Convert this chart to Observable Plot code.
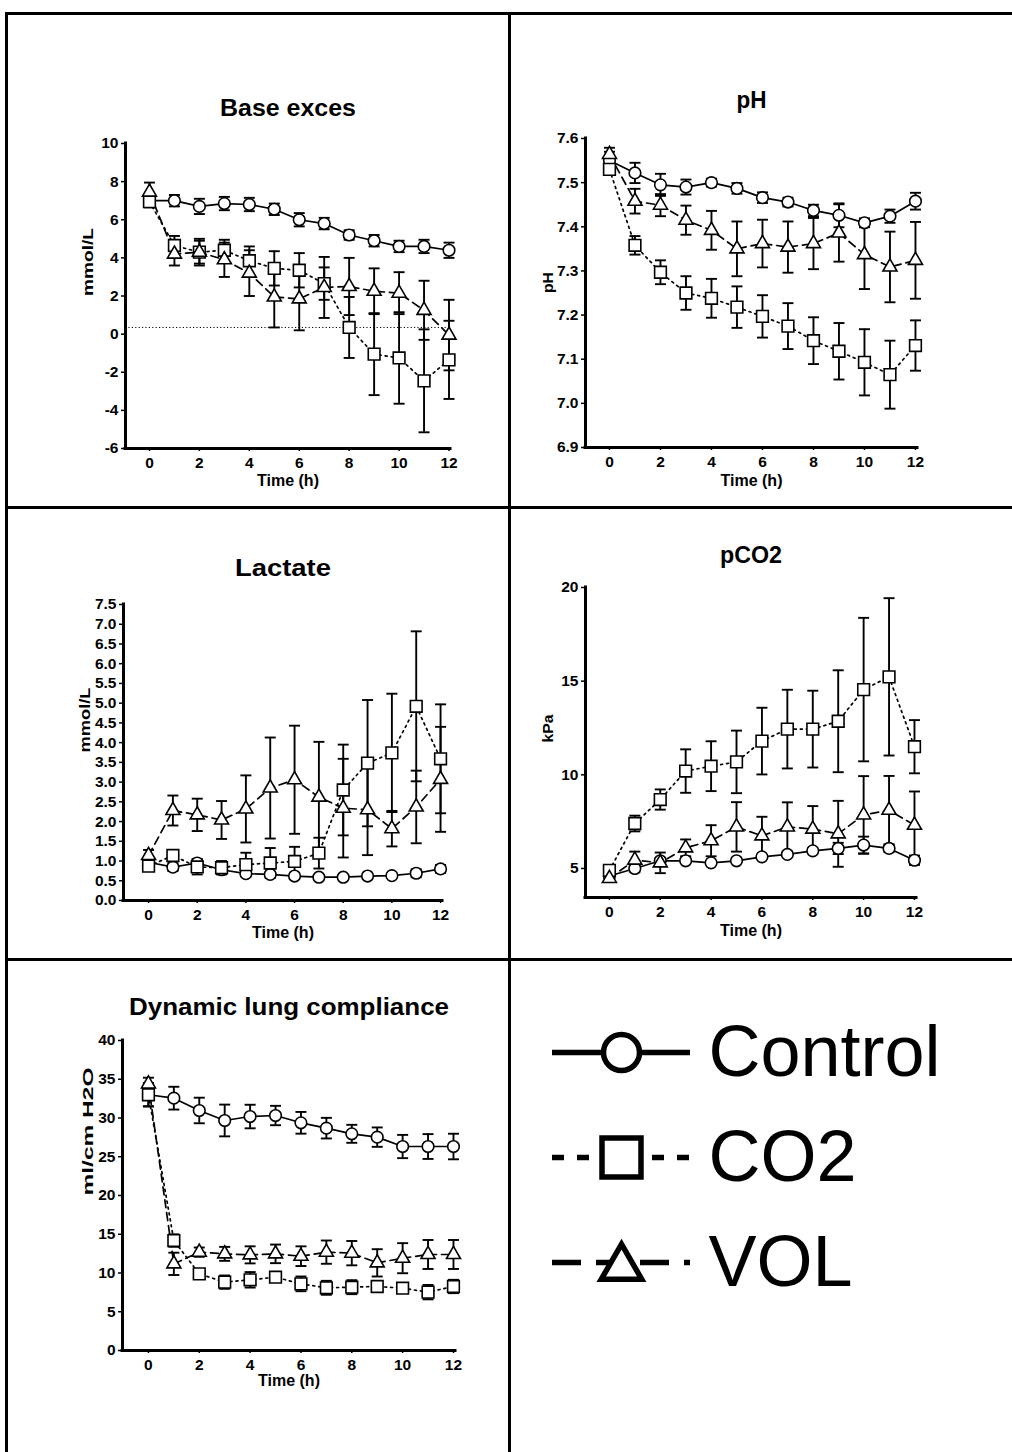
<!DOCTYPE html>
<html>
<head>
<meta charset="utf-8">
<script src="https://cdn.jsdelivr.net/npm/d3@7"></script>
<script src="https://cdn.jsdelivr.net/npm/@observablehq/plot@0.6"></script>
<style>
  html, body { margin: 0; padding: 0; background: white; }
  body { width: 1012px; height: 1452px; position: relative; overflow: hidden; font-family: "Liberation Sans", Arial, sans-serif; }
  .cell { position: absolute; }
  .bord { position: absolute; background: black; z-index: 5; }
</style>
</head>
<body>
<script>
// ---------- DATA ----------
const time = [0, 1, 2, 3, 4, 5, 6, 7, 8, 9, 10, 11, 12];
const groups = ["Control", "CO2", "VOL"];
const xTicks = [0, 2, 4, 6, 8, 10, 12];

// Base excess (mmol/L)
const beControl    = [7.0, 7.0, 6.7, 6.85, 6.8, 6.55, 6.0, 5.8, 5.2, 4.9, 4.6, 4.6, 4.4];
const beControlErr = [0.3, 0.3, 0.4, 0.35, 0.35, 0.3, 0.35, 0.3, 0.25, 0.3, 0.3, 0.35, 0.4];
const beCO2        = [6.95, 4.65, 4.3, 4.4, 3.85, 3.45, 3.35, 2.65, 0.35, -1.05, -1.25, -2.45, -1.35];
const beCO2Err     = [0.3, 0.5, 0.6, 0.55, 0.75, 0.9, 0.9, 0.85, 1.6, 2.15, 2.4, 2.7, 2.05];
const beVOL        = [7.45, 4.2, 4.3, 3.9, 3.2, 1.95, 1.85, 2.45, 2.5, 2.25, 2.15, 1.25, -0.05];
const beVOLErr     = [0.5, 0.6, 0.7, 0.9, 1.2, 1.6, 1.65, 1.6, 1.5, 1.2, 1.1, 1.55, 1.85];
const beRefLine    = 0.35;
const beTicks      = [-6, -4, -2, 0, 2, 4, 6, 8, 10];

// pH
const phControl    = [7.55, 7.522, 7.495, 7.49, 7.5, 7.487, 7.466, 7.456, 7.437, 7.426, 7.409, 7.424, 7.458];
const phControlErr = [0.02, 0.023, 0.025, 0.017, 0.009, 0.012, 0.012, 0.01, 0.013, 0.027, 0.01, 0.015, 0.019];
const phCO2        = [7.53, 7.358, 7.297, 7.25, 7.238, 7.218, 7.197, 7.175, 7.142, 7.118, 7.093, 7.065, 7.131];
const phCO2Err     = [0.01, 0.021, 0.027, 0.038, 0.044, 0.047, 0.048, 0.052, 0.053, 0.064, 0.075, 0.077, 0.057];
const phVOL        = [7.564, 7.458, 7.449, 7.415, 7.392, 7.35, 7.362, 7.354, 7.362, 7.386, 7.337, 7.309, 7.324];
const phVOLErr     = [0.015, 0.028, 0.025, 0.033, 0.044, 0.062, 0.054, 0.058, 0.058, 0.065, 0.078, 0.08, 0.087];
const phTicks      = [6.9, 7.0, 7.1, 7.2, 7.3, 7.4, 7.5, 7.6];

// Lactate (mmol/L)
const laControl    = [0.97, 0.845, 0.95, 0.78, 0.68, 0.66, 0.62, 0.59, 0.59, 0.62, 0.63, 0.69, 0.8];
const laControlErr = [0.1, 0.1, 0.1, 0.1, 0.05, 0.05, 0.04, 0.03, 0.03, 0.03, 0.03, 0.1, 0.1];
const laCO2        = [0.87, 1.14, 0.85, 0.83, 0.91, 0.95, 0.99, 1.2, 2.8, 3.48, 3.74, 4.92, 3.59];
const laCO2Err     = [0.05, 0.11, 0.19, 0.17, 0.3, 0.38, 0.37, 0.39, 1.15, 1.6, 1.5, 1.9, 1.38];
const laVOL        = [1.14, 2.28, 2.17, 2.04, 2.32, 2.85, 3.06, 2.62, 2.34, 2.3, 1.82, 2.37, 3.07];
const laVOLErr     = [0.14, 0.38, 0.41, 0.48, 0.85, 1.28, 1.37, 1.4, 1.25, 1.15, 0.45, 0.92, 1.33];
const laTicks      = [0, 0.5, 1, 1.5, 2, 2.5, 3, 3.5, 4, 4.5, 5, 5.5, 6, 6.5, 7, 7.5];

// pCO2 (kPa)
const pcControl    = [4.6, 5.0, 5.41, 5.41, 5.3, 5.41, 5.62, 5.75, 5.94, 6.07, 6.25, 6.07, 5.44];
const pcControlErr = [0.1, 0.2, 0.15, 0.1, 0.1, 0.1, 0.1, 0.1, 0.15, 0.3, 0.45, 0.2, 0.25];
const pcCO2        = [4.9, 7.4, 8.68, 10.2, 10.46, 10.69, 11.8, 12.44, 12.44, 12.86, 14.55, 15.23, 11.5];
const pcCO2Err     = [0.15, 0.42, 0.54, 1.16, 1.33, 1.67, 1.78, 2.1, 2.05, 2.72, 3.83, 4.2, 1.42];
const pcVOL        = [4.47, 5.45, 5.3, 6.1, 6.48, 7.22, 6.74, 7.22, 7.1, 6.85, 7.86, 8.11, 7.31];
const pcVOLErr     = [0.1, 0.45, 0.55, 0.45, 0.83, 1.32, 1.02, 1.31, 1.23, 1.76, 2.07, 1.83, 1.8];
const pcTicks      = [5, 10, 15, 20];

// Dynamic lung compliance (ml/cm H2O)
const dcControl    = [33.0, 32.56, 30.97, 29.68, 30.19, 30.32, 29.38, 28.69, 27.96, 27.53, 26.32, 26.32, 26.32];
const dcControlErr = [1.5, 1.47, 1.65, 2.05, 1.52, 1.25, 1.4, 1.33, 1.16, 1.25, 1.5, 1.6, 1.65];
const dcCO2        = [33.0, 14.19, 9.89, 8.82, 9.12, 9.46, 8.6, 8.09, 8.17, 8.26, 8.04, 7.53, 8.26];
const dcCO2Err     = [1.5, 0.8, 0.45, 0.86, 1.0, 0.4, 0.95, 0.9, 0.9, 0.58, 0.5, 0.93, 0.86];
const dcVOL        = [34.4, 11.18, 12.69, 12.47, 12.34, 12.47, 12.17, 12.69, 12.56, 11.31, 11.91, 12.39, 12.39];
const dcVOLErr     = [0.8, 1.44, 0.6, 0.9, 1.1, 1.2, 1.27, 1.5, 1.57, 1.76, 1.94, 1.87, 1.87];
const dcTicks      = [0, 5, 10, 15, 20, 25, 30, 35, 40];

// ---------- STYLE ----------
const FONT = "'Liberation Sans', Arial, Helvetica, sans-serif";
const groupStyle = {
  Control: {symbol: "circle", r: 5.8, dash: null},
  CO2:     {symbol: "square", r: 6.6, dash: "2,4"},
  VOL:     {symbol: "triangle", r: 5.2, dash: "8,5"}
};
const capSymbol = {
  draw(ctx, size) {
    const w = Math.sqrt(size / Math.PI);
    ctx.moveTo(-w, 0);
    ctx.lineTo(w, 0);
  }
};

function rows(mean, err) {
  return time.map((t, i) => ({t, m: mean[i], e: err[i]}));
}

function fitText(svg, label, len) {
  if (!len) return;
  const t = svg.querySelector(`g[aria-description="${label}"] text`);
  if (t) { t.setAttribute("textLength", len); t.setAttribute("lengthAdjust", "spacingAndGlyphs"); }
}

function panel(cfg) {
  const series = groups.map((g, k) => ({name: g, data: rows(cfg.means[k], cfg.errs[k])}));
  const marks = [];
  if (cfg.refLine != null) {
    marks.push(Plot.ruleY([cfg.refLine], {x1: cfg.xDomain[0], x2: 12, stroke: "black", strokeWidth: 1, strokeDasharray: "1.2,2.2"}));
  }
  for (const s of series) {
    const st = groupStyle[s.name];
    marks.push(Plot.line(s.data, {x: "t", y: "m", stroke: "black", strokeWidth: 1.7, strokeDasharray: st.dash ?? undefined}));
  }
  for (const s of series) {
    marks.push(Plot.ruleX(s.data, {x: "t", y1: d => d.m - d.e, y2: d => d.m + d.e, stroke: "black", strokeWidth: 1.9}));
    marks.push(Plot.dot(s.data, {x: "t", y: d => d.m + d.e, symbol: capSymbol, r: 5.5, fill: "none", stroke: "black", strokeWidth: 1.9}));
    marks.push(Plot.dot(s.data, {x: "t", y: d => d.m - d.e, symbol: capSymbol, r: 5.5, fill: "none", stroke: "black", strokeWidth: 1.9}));
  }
  for (const s of series) {
    const st = groupStyle[s.name];
    marks.push(Plot.dot(s.data, {x: "t", y: "m", symbol: st.symbol, r: st.r, fill: "white", stroke: "black", strokeWidth: 1.6}));
  }
  marks.push(Plot.axisY({ticks: cfg.yTicks, tickFormat: cfg.yFmt, tickSize: 4, tickPadding: 3, fontSize: 15.5, fontWeight: "bold", label: null, strokeWidth: 1.5}));
  marks.push(Plot.axisX({ticks: xTicks, tickFormat: d => String(d), tickSize: 3, tickPadding: 5, fontSize: 15.5, fontWeight: "bold", label: null, strokeWidth: 1.5}));
  marks.push(Plot.ruleX([cfg.xDomain[0]], {stroke: "black", strokeWidth: 3, strokeLinecap: "square"}));
  marks.push(Plot.ruleY([cfg.yDomain[0]], {stroke: "black", strokeWidth: 3, strokeLinecap: "square"}));
  marks.push(Plot.text([cfg.ylabel], {text: d => d, frameAnchor: "left", lineAnchor: "middle", rotate: -90, dx: cfg.ylabelDx, fontSize: 15, fontWeight: "bold", ariaDescription: "ylabel"}));
  marks.push(Plot.text(["Time (h)"], {text: d => d, frameAnchor: "bottom", lineAnchor: "middle", dy: cfg.xlabelDy, fontSize: 16, fontWeight: "bold", ariaDescription: "xlabel"}));
  marks.push(Plot.text([cfg.title], {text: d => d, frameAnchor: "top", lineAnchor: "middle", dy: cfg.titleDy, fontSize: 23, fontWeight: "bold", ariaDescription: "ptitle"}));

  const svg = Plot.plot({
    width: cfg.width, height: cfg.height,
    marginLeft: cfg.m[0], marginRight: cfg.m[1], marginTop: cfg.m[2], marginBottom: cfg.m[3],
    x: {domain: cfg.xDomain},
    y: {domain: cfg.yDomain},
    style: {fontFamily: FONT, color: "black", background: "transparent", overflow: "visible", maxWidth: "none"},
    marks
  });
  fitText(svg, "ylabel", cfg.ylabelLen);
  fitText(svg, "ptitle", cfg.titleLen);
  return svg;
}

function place(node, left, top) {
  const wrap = document.createElement("div");
  wrap.className = "cell";
  wrap.style.left = left + "px";
  wrap.style.top = top + "px";
  wrap.appendChild(node);
  document.body.appendChild(wrap);
}

const f1 = d3.format(".1f");

place(panel({
  title: "Base exces", ylabel: "mmol/L",
  means: [beControl, beCO2, beVOL], errs: [beControlErr, beCO2Err, beVOLErr],
  yDomain: [-6, 10], yTicks: beTicks, yFmt: d => String(d),
  xDomain: [-0.96, 12.06], width: 500, height: 490, m: [117, 58, 128, 57],
  titleDy: -35, xlabelDy: 32, ylabelDx: -37, refLine: beRefLine,
  titleLen: 136, ylabelLen: 68
}), 8, 15);

place(panel({
  title: "pH", ylabel: "pH",
  means: [phControl, phCO2, phVOL], errs: [phControlErr, phCO2Err, phVOLErr],
  yDomain: [6.9, 7.6], yTicks: phTicks, yFmt: f1,
  xDomain: [-0.94, 12.08], width: 500, height: 490, m: [73, 95, 123, 58],
  titleDy: -38, xlabelDy: 33, ylabelDx: -37,
  titleLen: 30, ylabelLen: 21
}), 512, 15);

place(panel({
  title: "Lactate", ylabel: "mmol/L",
  means: [laControl, laCO2, laVOL], errs: [laControlErr, laCO2Err, laVOLErr],
  yDomain: [0, 7.5], yTicks: laTicks, yFmt: f1,
  xDomain: [-1.03, 12.08], width: 500, height: 448, m: [115, 66, 94, 58],
  titleDy: -36, xlabelDy: 32, ylabelDx: -38,
  titleLen: 96, ylabelLen: 65
}), 8, 510);

place(panel({
  title: "pCO2", ylabel: "kPa",
  means: [pcControl, pcCO2, pcVOL], errs: [pcControlErr, pcCO2Err, pcVOLErr],
  yDomain: [3.45, 20], yTicks: pcTicks, yFmt: d => String(d),
  xDomain: [-0.94, 12.08], width: 500, height: 448, m: [73, 96, 77, 61],
  titleDy: -32, xlabelDy: 33, ylabelDx: -37,
  titleLen: 62, ylabelLen: 28
}), 512, 510);

place(panel({
  title: "Dynamic lung compliance", ylabel: "ml/cm H2O",
  means: [dcControl, dcCO2, dcVOL], errs: [dcControlErr, dcCO2Err, dcVOLErr],
  yDomain: [0, 40], yTicks: dcTicks, yFmt: d => String(d),
  xDomain: [-1.02, 12.08], width: 500, height: 490, m: [114, 53, 78, 102],
  titleDy: -33, xlabelDy: 30, ylabelDx: -34,
  titleLen: 320, ylabelLen: 128
}), 8, 962);

// ---------- LEGEND ----------
const legendStyle = {
  Control: {symbol: "circle", r: 18, dash: undefined, dy: 0},
  CO2:     {symbol: "square", r: 22, dash: "12,13", dy: 0},
  VOL:     {symbol: "triangle", r: 15, dash: "29,15", dy: 5}
};
const legendMarks = [];
for (const g of groups) {
  const st = legendStyle[g];
  legendMarks.push(Plot.ruleY([g], {y: d => d, x1: 0, x2: 1, stroke: "black", strokeWidth: 5.5, strokeDasharray: st.dash}));
}
for (const g of groups) {
  const st = legendStyle[g];
  legendMarks.push(Plot.dot([g], {y: d => d, x: 0.5, symbol: st.symbol, r: st.r, dy: st.dy, fill: "white", stroke: "black", strokeWidth: 5.5}));
}
legendMarks.push(Plot.text(groups, {y: d => d, x: 1, text: d => d, dx: 18, textAnchor: "start", fontSize: 72, fontWeight: "normal"}));

place(Plot.plot({
  width: 480, height: 320, margin: 0,
  x: {domain: [0, 1], range: [32, 170], axis: null},
  y: {type: "point", domain: groups, range: [52, 262], padding: 0, axis: null},
  style: {fontFamily: FONT, color: "black", background: "transparent", overflow: "visible", maxWidth: "none"},
  marks: legendMarks
}), 520, 1000);

// ---------- PANEL BORDERS ----------
function bord(l, t, w, h) {
  const d = document.createElement("div");
  d.className = "bord";
  d.style.left = l + "px"; d.style.top = t + "px";
  d.style.width = w + "px"; d.style.height = h + "px";
  document.body.appendChild(d);
}
bord(5, 12, 1007, 3);
bord(5, 12, 3, 1440);
bord(508, 12, 3, 1440);
bord(5, 506, 1007, 3);
bord(5, 958, 1007, 3);
</script>
</body>
</html>
